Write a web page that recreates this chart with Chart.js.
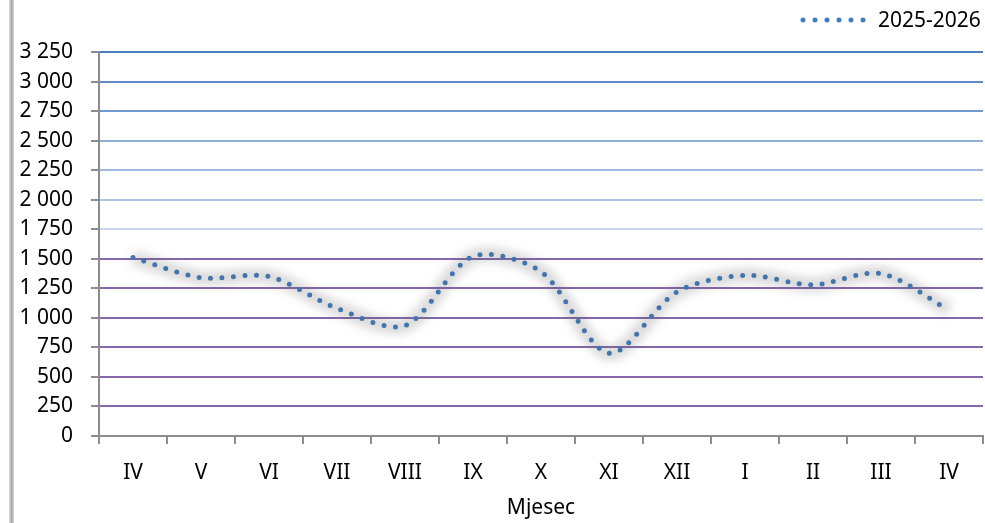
<!DOCTYPE html>
<html>
<head>
<meta charset="utf-8">
<script src="https://cdn.jsdelivr.net/npm/chart.js@4.4.1/dist/chart.umd.min.js"></script>
<style>
  body { margin: 0; background: #fff; }
  .wrap { position: relative; width: 985px; height: 523px; }
  .edge { position: absolute; left: 9px; top: 0; width: 5px; height: 523px;
          background: linear-gradient(to right, #e2e2e2, #a9a9a9, #d4d4d4); }
</style>
</head>
<body>
<div class="wrap">
  <div class="edge"></div>
  <canvas id="chart"></canvas>
</div>
<script>
////////////////////////////// data //////////////////////////////
const months = ['IV', 'V', 'VI', 'VII', 'VIII', 'IX', 'X', 'XI', 'XII', 'I', 'II', 'III', 'IV'];
const values = [1510, 1340, 1350, 1080, 935, 1520, 1390, 700, 1220, 1360, 1280, 1375, 1065];
const seriesName = '2025-2026';
const axisTitle = 'Mjesec';
const yMax = 3250;
const yStep = 250;

const FONT = { family: '"Noto Sans", sans-serif', size: 21 };
const DOT = '#3f7cc4';

// gridline colours, bottom (0) to top (3250)
const gridColors = ['rgba(0,0,0,0)', '#8468ab', '#8468ab', '#8468ab', '#8468ab', '#8468ab', '#8468ab',
  '#c9d5ec', '#acc3e4', '#9fb9e0', '#90afdc', '#7099d0', '#5d8ac9', '#4f7fc2'];

function fmt(v) {
  return String(v).replace(/\B(?=(\d{3})+(?!\d))/g, ' ');
}

// soft shadow behind the line + legend in the top right corner
const extras = {
  id: 'extras',
  beforeDatasetDraw(chart, args) {
    if (args.index === 0) {
      chart.ctx.save();
      chart.ctx.filter = 'blur(5px)';
    }
  },
  afterDatasetDraw(chart, args) {
    if (args.index === 0) chart.ctx.restore();
  },
  afterDraw(chart) {
    const ctx = chart.ctx;
    ctx.save();
    ctx.strokeStyle = DOT;
    ctx.lineWidth = 5;
    ctx.lineCap = 'round';
    ctx.setLineDash([0, 12]);
    ctx.beginPath();
    ctx.moveTo(803, 20);
    ctx.lineTo(866, 20);
    ctx.stroke();
    ctx.setLineDash([]);
    ctx.fillStyle = '#000';
    ctx.font = `${FONT.size}px ${FONT.family}`;
    ctx.textBaseline = 'middle';
    ctx.fillText(seriesName, 878, 21);
    ctx.restore();
  }
};

new Chart(document.getElementById('chart'), {
  type: 'line',
  data: {
    labels: months,
    datasets: [
      {
        label: 'shadow',
        data: values,
        borderColor: 'rgba(80,80,80,0.22)',
        borderWidth: 14,
        tension: 0.3,
        pointRadius: 0,
        fill: false
      },
      {
        label: seriesName,
        data: values,
        borderColor: DOT,
        borderWidth: 5,
        borderCapStyle: 'round',
        borderDash: [0, 11.5],
        tension: 0.3,
        pointRadius: 0,
        fill: false
      }
    ]
  },
  options: {
    responsive: true,
    maintainAspectRatio: false,
    animation: false,
    layout: { padding: { top: 52, right: 2, left: 0, bottom: 0 } },
    plugins: {
      legend: { display: false },
      tooltip: { enabled: false }
    },
    scales: {
      x: {
        offset: true,
        afterFit(scale) { scale.height = 87; },
        grid: { drawOnChartArea: false, drawTicks: true, tickLength: 8, tickColor: '#8c8c8c', lineWidth: 2, offset: true },
        border: { color: '#8c8c8c', width: 2 },
        ticks: { color: '#000', font: FONT, padding: 16, maxRotation: 0, autoSkip: false },
        title: { display: true, text: axisTitle, color: '#000', font: FONT, padding: { top: 4, bottom: 2 } }
      },
      y: {
        min: 0,
        max: yMax,
        afterFit(scale) { scale.width = 99; },
        grid: {
          color: ctx => gridColors[ctx.index] || '#8468ab',
          lineWidth: 2,
          tickLength: 8,
          tickColor: '#8c8c8c'
        },
        border: { color: '#8c8c8c', width: 2 },
        ticks: { stepSize: yStep, color: '#000', font: FONT, padding: 18, callback: v => fmt(v) }
      }
    }
  },
  plugins: [extras]
});
</script>
</body>
</html>
